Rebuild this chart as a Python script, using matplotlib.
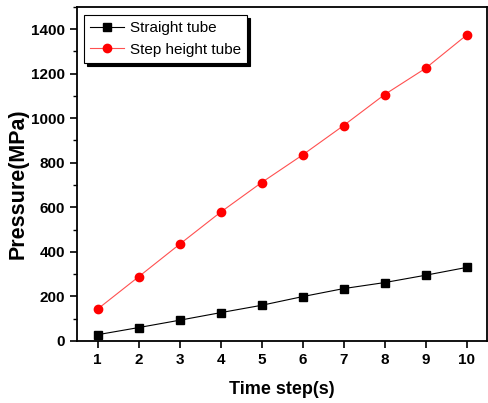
import matplotlib
matplotlib.use("Agg")
from matplotlib import pyplot as plt
from matplotlib.ticker import MultipleLocator

plt.rcParams['font.family'] = ['Liberation Sans', 'DejaVu Sans']

# time steps and pressure values
time_step = [1, 2, 3, 4, 5, 6, 7, 8, 9, 10]
straight_tube = [28, 60, 93, 127, 160, 199, 235, 262, 295, 330]
step_height_tube = [143, 288, 434, 578, 711, 835, 967, 1106, 1224, 1373]

fig = plt.figure(figsize=(4.88, 4.03), dpi=100)
ax = fig.add_axes([0.158, 0.154, 0.84, 0.829])

ax.plot(time_step, straight_tube, color='black', lw=0.8, marker='s',
        markersize=5.5, label='Straight tube')
ax.plot(time_step, step_height_tube, color='#ff5050', lw=0.8, marker='o',
        markersize=6, markerfacecolor='red', markeredgecolor='red',
        label='Step height tube')

ax.set_xlim(0.5, 10.5)
ax.set_ylim(0, 1500)
ax.set_xticks(time_step)
ax.yaxis.set_major_locator(MultipleLocator(200))
ax.yaxis.set_minor_locator(MultipleLocator(100))

for s in ax.spines.values():
    s.set_linewidth(1.3)
ax.tick_params(axis='both', direction='out', width=1.2, length=5,
               labelsize=11)
ax.tick_params(axis='y', which='minor', direction='out', width=1, length=3)
ax.tick_params(top=False, right=False)
for lab in ax.get_xticklabels() + ax.get_yticklabels():
    lab.set_fontweight('bold')

ax.set_xlabel('Time step(s)', fontsize=13, fontweight='bold', labelpad=10)
ax.set_ylabel('Pressure(MPa)', fontsize=15.5, fontweight='bold')
ax.yaxis.set_label_coords(-0.118, 0.47)

leg = ax.legend(loc='upper left', bbox_to_anchor=(0.01, 0.985), fancybox=False,
                edgecolor='black', framealpha=1, fontsize=11,
                shadow={'color': 'black', 'alpha': 1},
                handlelength=2.2, handletextpad=0.4, borderaxespad=0.2,
                labelspacing=0.5, borderpad=0.4)
leg.get_frame().set_linewidth(0.8)

fig.savefig('out.png', dpi=100)
